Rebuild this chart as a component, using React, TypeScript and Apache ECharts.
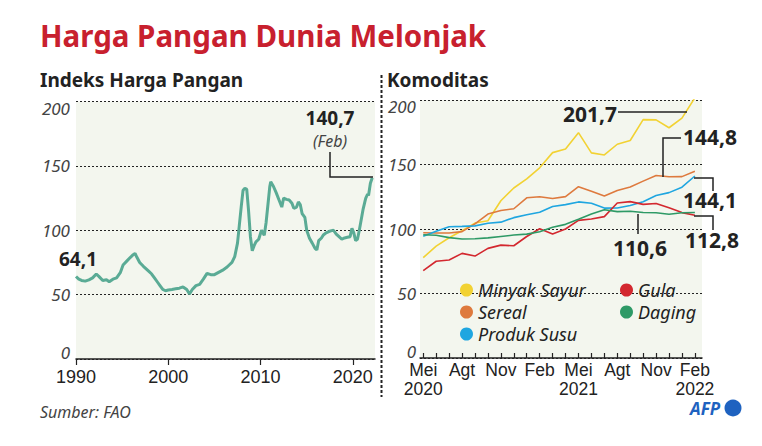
import React, { useEffect, useRef } from "react";
import * as echarts from "echarts";

// ---------- data ----------
const indeksTahun = [
  1990.0, 1990.3, 1990.6, 1991.0, 1991.4, 1991.8, 1992.2, 1992.5, 1992.9, 1993.3, 1993.6,
  1994.0, 1994.4, 1994.8, 1995.1, 1995.5, 1995.9, 1996.2, 1996.4, 1996.6, 1996.9, 1997.3,
  1997.6, 1997.9, 1998.2, 1998.5, 1998.8, 1999.1, 1999.4, 1999.7, 2000.0, 2000.4, 2000.8,
  2001.2, 2001.6, 2002.0, 2002.3, 2002.6, 2003.0, 2003.4, 2003.8, 2004.2, 2004.6, 2005.0,
  2005.5, 2005.9, 2006.3, 2006.6, 2006.9, 2007.2, 2007.5, 2007.7, 2007.9, 2008.1, 2008.3,
  2008.5, 2008.7, 2008.9, 2009.1, 2009.3, 2009.5, 2009.8, 2010.1, 2010.4, 2010.6, 2010.8,
  2011.0, 2011.1, 2011.4, 2011.7, 2012.0, 2012.3, 2012.5, 2012.8, 2013.1, 2013.4, 2013.6,
  2013.9, 2014.1, 2014.3, 2014.5, 2014.8, 2015.0, 2015.3, 2015.6, 2015.9, 2016.1, 2016.3,
  2016.6, 2016.8, 2017.1, 2017.4, 2017.7, 2017.9, 2018.2, 2018.5, 2018.8, 2019.1, 2019.4,
  2019.7, 2019.9, 2020.1, 2020.3, 2020.5, 2020.7, 2020.9, 2021.1, 2021.3, 2021.4, 2021.6,
  2021.7, 2021.9, 2022.1,
];
const indeksNilai = [
  64.1, 62, 61, 60.5, 61.5, 63, 66, 64, 61, 61.5, 60,
  62, 63, 67, 73, 76, 79, 81, 82, 79, 75, 72,
  70, 68, 66, 63, 60, 57, 54, 53, 53.6, 54, 54.5,
  55, 56, 54, 50.5, 54, 57, 58, 62, 66.5, 65.5, 65.5,
  67.5, 69, 71, 73, 75, 79.5, 90, 104, 118, 131, 132.5,
  132, 115, 95, 84, 88, 91, 93, 100, 96, 106, 120,
  134, 137.7, 134, 129, 123.5, 118, 125, 124, 123.5, 121, 117,
  118, 122, 120, 113, 110, 100, 93.7, 90, 86, 84.7, 92,
  94, 96.3, 98, 99, 99.7, 100, 97, 95, 93, 94, 94.5,
  95, 101.5, 98, 92, 93, 100, 108, 116, 122, 125, 128,
  127, 136.5, 140.7,
];

const tahunLabel = [1990, 2000, 2010, 2020];

// monthly May 2020 .. Feb 2022
const minyakSayur = [77.8, 86.7, 93.2, 98.7, 104.6, 106.4, 121.9, 131.8, 138.8, 147.4, 159.2, 162.0, 174.7, 159.0, 157.4, 165.7, 168.6, 184.8, 184.6, 178.5, 185.9, 201.7];
const sereal = [97.1, 96.9, 96.9, 98.0, 104.0, 111.6, 114.4, 115.7, 124.2, 125.0, 123.6, 125.1, 132.8, 129.3, 125.5, 129.8, 132.5, 137.1, 141.5, 140.5, 140.6, 144.8];
const produkSusu = [94.4, 98.2, 101.8, 102.0, 102.4, 104.5, 105.3, 108.8, 111.0, 113.0, 117.4, 118.9, 121.0, 119.9, 116.2, 116.3, 118.2, 121.2, 125.9, 128.2, 132.4, 141.1];
const gula = [67.8, 75.0, 76.0, 81.1, 79.0, 85.0, 87.5, 87.0, 94.2, 100.2, 96.2, 100.0, 106.7, 107.7, 109.6, 120.1, 121.2, 119.1, 119.8, 116.4, 112.7, 110.6];
const daging = [95.5, 95.2, 93.3, 92.3, 92.5, 93.1, 94.2, 95.3, 96.0, 97.9, 101.3, 103.6, 107.5, 111.6, 114.9, 113.5, 113.8, 112.8, 112.6, 111.4, 112.6, 112.8];

const bulanIdx = [0, 3, 6, 9, 12, 15, 18, 21];
const bulanLabel = ["Mei", "Agt", "Nov", "Feb", "Mei", "Agt", "Nov", "Feb"];
const tahunIdx = [0, 12, 21];
const tahunBulanLabel = ["2020", "2021", "2022"];

const FONT = "'Noto Sans', 'DejaVu Sans', sans-serif";
const AXFONT = "'Liberation Sans', Arial, sans-serif";

export default function App() {
  const ref = useRef<HTMLDivElement>(null);

  useEffect(() => {
    document.body.style.margin = "0";
    if (!ref.current) return;
    const chart = echarts.init(ref.current, undefined, { renderer: "svg" });

    const yLabel = (margin: number) => ({
      margin,
      fontFamily: FONT,
      fontSize: 17,
      fontStyle: "italic",
      color: "#444",
      formatter: (v: number) => (v === 200 ? `{t|${v}}` : v === 0 ? `{b|${v}}` : `{n|${v}}`),
      rich: {
        t: { fontFamily: FONT, fontSize: 17, fontStyle: "italic", color: "#444", padding: [13, 0, 0, 0] },
        b: { fontFamily: FONT, fontSize: 17, fontStyle: "italic", color: "#444", padding: [0, 0, 14, 0] },
        n: { fontFamily: FONT, fontSize: 17, fontStyle: "italic", color: "#444" },
      },
    });

    const splitLine = { show: true, lineStyle: { color: "#222", type: [2, 2], width: 1 } };

    const mk = (arr: number[]) => arr.map((v, i) => [i, v]);
    const lineSeries = (name: string, data: number[], color: string) => ({
      name,
      type: "line",
      xAxisIndex: 1,
      yAxisIndex: 1,
      data: mk(data),
      showSymbol: false,
      symbol: "circle",
      lineStyle: { color, width: 1.6 },
      itemStyle: { color },
      z: 3,
    });

    const t = (text: string, x: number, y: number, font: string, fill = "#222", align = "center") => ({
      type: "text",
      x,
      y,
      style: { text, font, fill, textAlign: align, textVerticalAlign: "middle" },
      z: 10,
    });
    const pl = (points: number[][]) => ({
      type: "polyline",
      shape: { points },
      style: { stroke: "#222", lineWidth: 1.5, fill: null },
      z: 10,
    });

    const option: any = {
      animation: false,
      backgroundColor: "#ffffff",
      grid: [
        { left: 76, top: 101.5, width: 299, height: 257.5, show: true, backgroundColor: "#f3f6ee", borderWidth: 0 },
        { left: 420, top: 100, width: 282, height: 258, show: true, backgroundColor: "#f3f6ee", borderWidth: 0 },
      ],
      xAxis: [
        {
          type: "value",
          gridIndex: 0,
          position: "bottom",
          min: 1990,
          max: 2022.4,
          axisLine: { show: true, onZero: false, lineStyle: { color: "#222", width: 1.5 } },
          axisTick: { show: true, length: 6, lineStyle: { color: "#222", width: 1.2 }, customValues: tahunLabel },
          axisLabel: {
            customValues: tahunLabel,
            formatter: (v: number) => String(v),
            margin: 9,
            fontFamily: AXFONT,
            fontSize: 18,
            color: "#222",
          },
          splitLine: { show: false },
        },
        {
          type: "value",
          gridIndex: 1,
          position: "bottom",
          min: -0.25,
          max: 21.55,
          axisLine: { show: true, onZero: false, lineStyle: { color: "#222", width: 1.5 } },
          axisTick: {
            show: true,
            inside: true,
            length: 5,
            lineStyle: { color: "#222", width: 1.2 },
            customValues: minyakSayur.map((_, i) => i),
          },
          axisLabel: {
            customValues: bulanIdx,
            formatter: (v: number) => bulanLabel[bulanIdx.indexOf(Math.round(v))] ?? "",
            margin: 3,
            fontFamily: AXFONT,
            fontSize: 17.5,
            color: "#222",
          },
          splitLine: { show: false },
        },
        {
          type: "value",
          gridIndex: 1,
          position: "bottom",
          offset: 0,
          min: -0.25,
          max: 21.55,
          axisLine: { show: false, onZero: false },
          axisTick: { show: false },
          axisLabel: {
            customValues: tahunIdx,
            formatter: (v: number) => tahunBulanLabel[tahunIdx.indexOf(Math.round(v))] ?? "",
            margin: 22,
            fontFamily: AXFONT,
            fontSize: 17.5,
            color: "#222",
          },
          splitLine: { show: false },
        },
      ],
      yAxis: [
        {
          type: "value",
          gridIndex: 0,
          min: 0,
          max: 200,
          interval: 50,
          axisLine: { show: false },
          axisTick: { show: false },
          axisLabel: yLabel(6),
          splitLine,
        },
        {
          type: "value",
          gridIndex: 1,
          min: 0,
          max: 200,
          interval: 50,
          axisLine: { show: false },
          axisTick: { show: false },
          axisLabel: yLabel(4),
          splitLine,
        },
      ],
      legend: [
        {
          data: ["Minyak Sayur", "Sereal", "Produk Susu"],
          orient: "vertical",
          left: 455,
          top: 276,
          icon: "circle",
          itemWidth: 13,
          itemHeight: 13,
          itemGap: 4,
          selectedMode: false,
          textStyle: { fontFamily: FONT, fontSize: 18, fontStyle: "italic", color: "#222" },
        },
        {
          data: ["Gula", "Daging"],
          orient: "vertical",
          left: 615,
          top: 276,
          icon: "circle",
          itemWidth: 13,
          itemHeight: 13,
          itemGap: 4,
          selectedMode: false,
          textStyle: { fontFamily: FONT, fontSize: 18, fontStyle: "italic", color: "#222" },
        },
      ],
      series: [
        {
          name: "Indeks Harga Pangan",
          type: "line",
          xAxisIndex: 0,
          yAxisIndex: 0,
          data: indeksTahun.map((x, i) => [x, indeksNilai[i]]),
          showSymbol: false,
          lineStyle: { color: "#5aab95", width: 3 },
          z: 3,
        },
        lineSeries("Minyak Sayur", minyakSayur, "#f2d233"),
        lineSeries("Sereal", sereal, "#de7a3e"),
        lineSeries("Produk Susu", produkSusu, "#1fa6e0"),
        lineSeries("Gula", gula, "#d3282f"),
        lineSeries("Daging", daging, "#2e9a66"),
      ],
      graphic: [
        t("Harga Pangan Dunia Melonjak", 40, 35, `bold 29.5px ${FONT}`, "#c8202e", "left"),
        t("Indeks Harga Pangan", 40, 80, `bold 19px ${FONT}`, "#222", "left"),
        t("Komoditas", 387, 80, `bold 19px ${FONT}`, "#222", "left"),
        {
          type: "line",
          shape: { x1: 381.5, y1: 75, x2: 381.5, y2: 397 },
          style: { stroke: "#222", lineWidth: 2, lineDash: [3, 2] },
          z: 10,
        },
        t("64,1", 78, 259, `bold 19px ${FONT}`),
        t("140,7", 330, 118, `bold 19px ${FONT}`),
        t("(Feb)", 330, 141, `italic 16px ${FONT}`, "#444"),
        pl([[330, 152], [330, 177], [373, 177]]),
        t("201,7", 590, 114, `bold 21px ${FONT}`),
        pl([[618, 112], [687, 112]]),
        t("144,8", 710, 137, `bold 21px ${FONT}`),
        pl([[663, 177], [663, 138], [681, 138]]),
        t("144,1", 710, 200, `bold 21px ${FONT}`),
        pl([[694, 178], [713, 178], [713, 191]]),
        t("112,8", 712, 240, `bold 21px ${FONT}`),
        pl([[694, 216], [713, 216], [713, 230]]),
        t("110,6", 640, 248, `bold 21px ${FONT}`),
        pl([[638, 214], [638, 234]]),
        t("Sumber: FAO", 40, 412, `italic 16px ${FONT}`, "#444", "left"),
        t("AFP", 705, 408, `italic bold 17px ${FONT}`, "#1e62c0"),
        { type: "circle", shape: { cx: 733, cy: 408, r: 8.5 }, style: { fill: "#1e62c0" }, z: 10 },
      ],
    };

    chart.setOption(option);
    return () => chart.dispose();
  }, []);

  return <div ref={ref} style={{ width: 762, height: 446 }} />;
}
